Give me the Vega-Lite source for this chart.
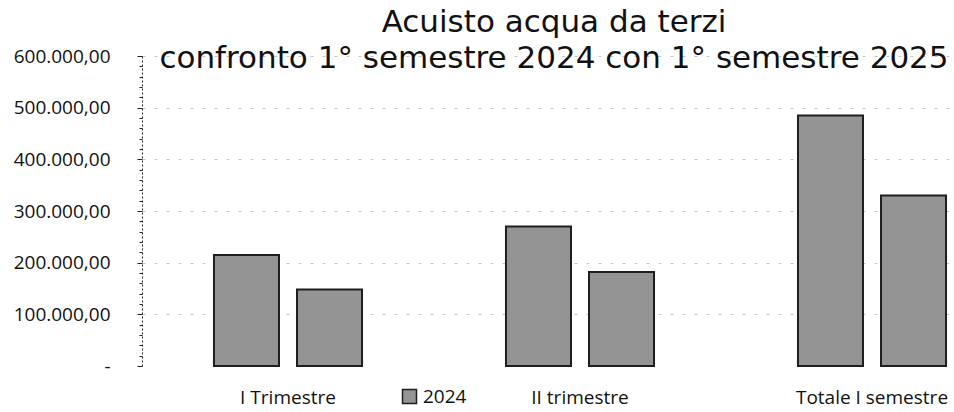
{
  "$schema": "https://vega.github.io/schema/vega-lite/v6.json",
  "width": 812,
  "height": 310,
  "autosize": {"type": "none"},
  "padding": {"left": 142, "top": 56, "right": 0, "bottom": 46},
  "background": "white",
  "config": {"font": "Open Sans", "view": {"stroke": null}},
  "title": {
    "text": ["Acuisto acqua da terzi", "confronto 1° semestre 2024 con 1° semestre 2025"],
    "font": "DejaVu Sans",
    "fontSize": 31,
    "fontWeight": "normal",
    "color": "#111111",
    "anchor": "middle",
    "lineHeight": 36,
    "baseline": "alphabetic",
    "offset": -52,
    "dx": 6
  },
  "data": {
    "values": [
      {"periodo": "I Trimestre", "anno": "2024", "valore": 215000},
      {"periodo": "I Trimestre", "anno": "2025", "valore": 148000},
      {"periodo": "II trimestre", "anno": "2024", "valore": 270000},
      {"periodo": "II trimestre", "anno": "2025", "valore": 182000},
      {"periodo": "Totale I semestre", "anno": "2024", "valore": 485000},
      {"periodo": "Totale I semestre", "anno": "2025", "valore": 330000}
    ]
  },
  "mark": {"type": "bar", "stroke": "#1e1e1e", "strokeWidth": 2},
  "encoding": {
    "x": {
      "field": "periodo",
      "type": "nominal",
      "sort": ["I Trimestre", "II trimestre", "Totale I semestre"],
      "scale": {"range": [0, 876], "paddingInner": 0.493, "paddingOuter": 0.2465},
      "axis": {
        "title": null,
        "labelAngle": 0,
        "domain": false,
        "ticks": false,
        "labelFontSize": 19,
        "labelPadding": 22,
        "labelColor": "#111111"
      }
    },
    "xOffset": {
      "field": "anno",
      "type": "nominal",
      "scale": {"paddingInner": 0.217, "paddingOuter": 0}
    },
    "y": {
      "field": "valore",
      "type": "quantitative",
      "scale": {"domain": [0, 600000], "nice": false},
      "axis": {
        "title": null,
        "values": [0, 20000, 40000, 60000, 80000, 100000, 120000, 140000, 160000, 180000, 200000, 220000, 240000, 260000, 280000, 300000, 320000, 340000, 360000, 380000, 400000, 420000, 440000, 460000, 480000, 500000, 520000, 540000, 560000, 580000, 600000],
        "labelExpr": "datum.value == 0 ? '-\u00a0\u00a0' : (datum.value % 100000 == 0 ? format(datum.value / 1000, 'd') + '.000,00' : '')",
        "labelFontSize": 19,
        "labelColor": "#111111",
        "labelPadding": 27,
        "labelOverlap": false,
        "tickColor": "#222222",
        "tickSize": {"condition": {"test": "datum.value % 100000 == 0", "value": 5}, "value": 3},
        "domainColor": "#222222",
        "domainDash": [2, 2],
        "grid": true,
        "gridColor": "#999999",
        "gridDash": [3, 9],
        "gridOpacity": {"condition": {"test": "datum.value % 100000 == 0 && datum.value > 0", "value": 0.55}, "value": 0}
      }
    },
    "color": {
      "field": "anno",
      "type": "nominal",
      "scale": {"range": ["#949494", "#949494"]},
      "legend": {
        "title": null,
        "orient": "none",
        "legendX": 258,
        "legendY": 331,
        "values": ["2024"],
        "symbolType": "square",
        "symbolSize": 196,
        "symbolStrokeColor": "#1e1e1e",
        "symbolStrokeWidth": 1.5,
        "labelFontSize": 19,
        "labelColor": "#111111",
        "labelOffset": 4,
        "padding": 0
      }
    }
  }
}
